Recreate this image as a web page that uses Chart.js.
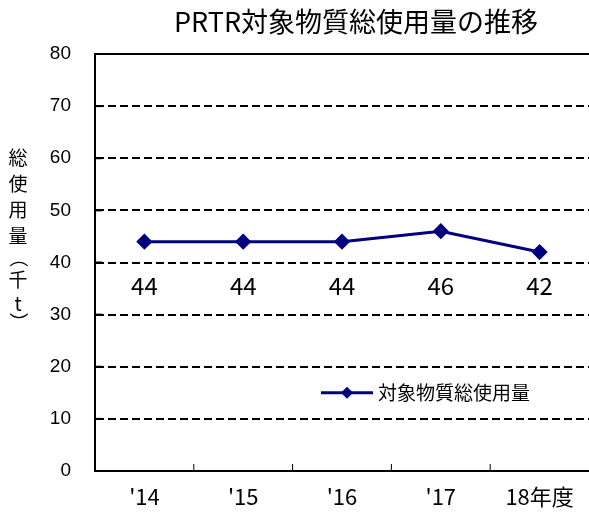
<!DOCTYPE html>
<html>
<head>
<meta charset="utf-8">
<script src="https://cdn.jsdelivr.net/npm/chart.js@4"></script>
<style>
  html, body { margin: 0; padding: 0; background: #fff; overflow: hidden; }
  #wrap { width: 589px; height: 517px; overflow: hidden; }
  #usageChart { display: block; }
</style>
</head>
<body>
<div id="wrap"><canvas id="usageChart" width="598" height="517"></canvas></div>
<script>
// data
const years = ["'14", "'15", "'16", "'17", "18年度"];
const totalUsage = [44, 44, 44, 46, 42];
const yTicks = [0, 10, 20, 30, 40, 50, 60, 70, 80];
const seriesName = '対象物質総使用量';
const chartTitle = 'PRTR対象物質総使用量の推移';
const yAxisTitle = ['総', '使', '用', '量', '（', '千', 't', '）'];

const jpFont = '"Noto Sans CJK JP", "Noto Sans", sans-serif';
const numFont = '"Liberation Sans", Arial, sans-serif';
const navy = '#000080';

// title, y title, inner ticks, solid top line, value labels, legend
const decorations = {
    id: 'decorations',
    afterDraw(chart) {
        const ctx = chart.ctx;
        const area = chart.chartArea;
        const y = chart.scales.y;
        const x = chart.scales.x;
        ctx.save();

        // title
        ctx.fillStyle = '#000';
        ctx.font = '27px ' + jpFont;
        ctx.textAlign = 'center';
        ctx.textBaseline = 'middle';
        ctx.fillText(chartTitle, 356, 22);

        // vertical y axis title, one character per line
        ctx.font = '19px ' + jpFont;
        const stepY = [0, 26, 52, 78, 100, 122, 146, 164];
        yAxisTitle.forEach((ch, i) => {
            if (ch === '（' || ch === '）') {
                ctx.save();
                ctx.translate(18, 158 + stepY[i]);
                ctx.rotate(Math.PI / 2);
                ctx.fillText(ch, 0, 0);
                ctx.restore();
            } else {
                ctx.fillText(ch, 18, 158 + stepY[i]);
            }
        });

        // solid top line at 80
        ctx.strokeStyle = '#000';
        ctx.lineWidth = 2;
        ctx.beginPath();
        ctx.moveTo(area.left, y.getPixelForValue(80));
        ctx.lineTo(area.right, y.getPixelForValue(80));
        ctx.stroke();

        // inward tick marks on y axis
        yTicks.forEach(v => {
            const py = y.getPixelForValue(v);
            ctx.beginPath();
            ctx.moveTo(area.left, py);
            ctx.lineTo(area.left + 7, py);
            ctx.stroke();
        });

        // inward tick marks on x axis between categories
        ctx.lineWidth = 1;
        for (let i = 1; i < years.length; i++) {
            const px = (x.getPixelForValue(i - 1) + x.getPixelForValue(i)) / 2;
            ctx.beginPath();
            ctx.moveTo(px, area.bottom);
            ctx.lineTo(px, area.bottom - 7);
            ctx.stroke();
        }

        // value labels
        ctx.font = '24px ' + jpFont;
        ctx.fillStyle = '#000';
        totalUsage.forEach((v, i) => {
            ctx.fillText(String(v), x.getPixelForValue(i), y.getPixelForValue(35.5));
        });

        // legend inside plot
        const ly = y.getPixelForValue(15);
        const lx = area.left + 226;
        ctx.strokeStyle = navy;
        ctx.lineWidth = 3;
        ctx.beginPath();
        ctx.moveTo(lx, ly);
        ctx.lineTo(lx + 52, ly);
        ctx.stroke();
        ctx.fillStyle = navy;
        ctx.beginPath();
        ctx.moveTo(lx + 26, ly - 6);
        ctx.lineTo(lx + 32, ly);
        ctx.lineTo(lx + 26, ly + 6);
        ctx.lineTo(lx + 20, ly);
        ctx.closePath();
        ctx.fill();
        ctx.fillStyle = '#000';
        ctx.font = '19px ' + jpFont;
        ctx.textAlign = 'left';
        ctx.fillText(seriesName, lx + 57, ly);

        ctx.restore();
    }
};

new Chart(document.getElementById('usageChart'), {
    type: 'line',
    data: {
        labels: years,
        datasets: [{
            label: seriesName,
            data: totalUsage,
            borderColor: navy,
            backgroundColor: navy,
            borderWidth: 3,
            pointStyle: 'rectRot',
            pointRadius: 6,
            pointHoverRadius: 6,
            tension: 0
        }]
    },
    options: {
        responsive: false,
        animation: false,
        layout: { padding: { top: 54, right: 0, left: 0, bottom: 0 } },
        plugins: {
            legend: { display: false },
            title: { display: false },
            tooltip: { enabled: false }
        },
        scales: {
            x: {
                offset: true,
                grid: { display: false, drawTicks: false },
                border: { display: true, color: '#000', width: 2 },
                ticks: {
                    color: '#000',
                    font: { family: jpFont, size: 22 },
                    padding: 12,
                    maxRotation: 0,
                    autoSkip: false
                },
                afterFit: s => { s.height = 46; }
            },
            y: {
                min: 0,
                max: 80,
                grid: {
                    drawTicks: false,
                    lineWidth: 2,
                    color: ctx => (ctx.tick && (ctx.tick.value === 0 || ctx.tick.value === 80)) ? 'rgba(0,0,0,0)' : '#000'
                },
                border: { display: true, color: '#000', width: 2, dash: [8, 4] },
                ticks: {
                    stepSize: 10,
                    color: '#000',
                    font: { family: numFont, size: 19 },
                    padding: 24
                },
                afterFit: s => { s.width = 95; }
            }
        }
    },
    plugins: [decorations]
});
</script>
</body>
</html>
